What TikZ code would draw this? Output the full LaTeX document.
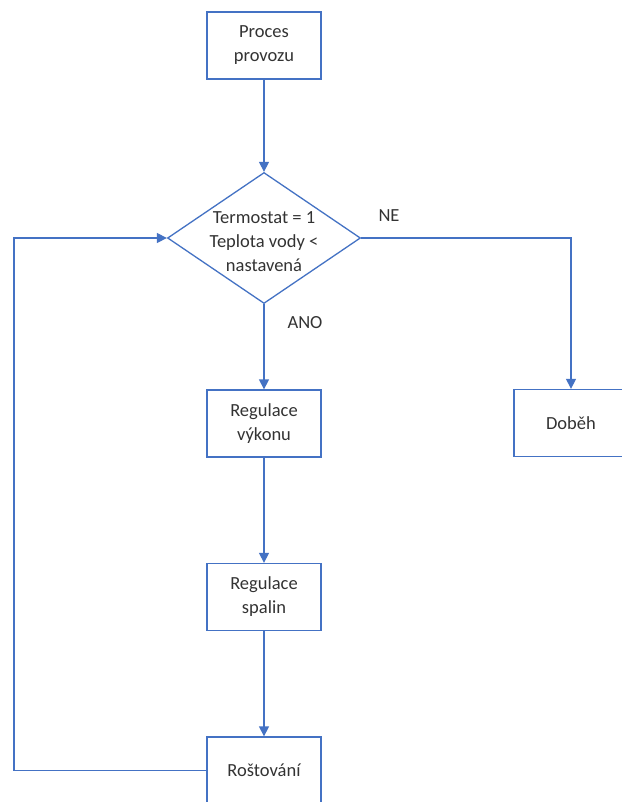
\documentclass[tikz,border=0pt]{standalone}
\usepackage{fontspec}
\setmainfont{Carlito}
\usetikzlibrary{shapes.geometric,arrows.meta}
\definecolor{lineblue}{HTML}{4472C4}
\definecolor{txt}{HTML}{333333}
\begin{document}
\begin{tikzpicture}[x=1pt,y=-1pt,
  every node/.style={text=txt,font=\fontsize{18.5}{24}\selectfont},
  box/.style={draw=lineblue,line width=1.3pt,fill=white,minimum width=114pt,minimum height=67pt,inner sep=0pt,align=center},
  arr/.style={draw=lineblue,line width=1.3pt,-{Triangle[length=10pt,width=10pt]}},
  lbl/.style={inner sep=0pt}]
\useasboundingbox (0,0) rectangle (621,802);
\fill[white] (0,0) rectangle (621,802);
\node[box] (proc) at (264,45.5) {Proces\\provozu};
\node[diamond,draw=lineblue,line width=1.3pt,minimum width=193pt,minimum height=131pt,inner sep=0pt] (dec) at (264,238) {};
\node[align=center,inner sep=0pt] (dect) at (264,242) {Termostat = 1\\Teplota vody <\\nastavená};
\node[box] (reg) at (264,423.5) {Regulace\\výkonu};
\node[box] (spal) at (264,597) {Regulace\\spalin};
\node[box] (rost) at (264,770.5) {Roštování};
\node[box] (dob) at (571,423) {Doběh};
\coordinate (lp) at (14,771);
\node[lbl] (ne) at (389,216) {NE};
\node[lbl] (ano) at (305,323) {ANO};
\draw[arr] (proc) -- (dec.north);
\draw[arr] (dec.south) -- (reg.north);
\draw[arr] (reg) -- (spal);
\draw[arr] (spal) -- (rost);
\draw[arr] (dec.east) -| (dob.north);
\draw[arr] (rost.west) -- (rost.west -| lp) |- (dec.west);
\end{tikzpicture}
\end{document}
